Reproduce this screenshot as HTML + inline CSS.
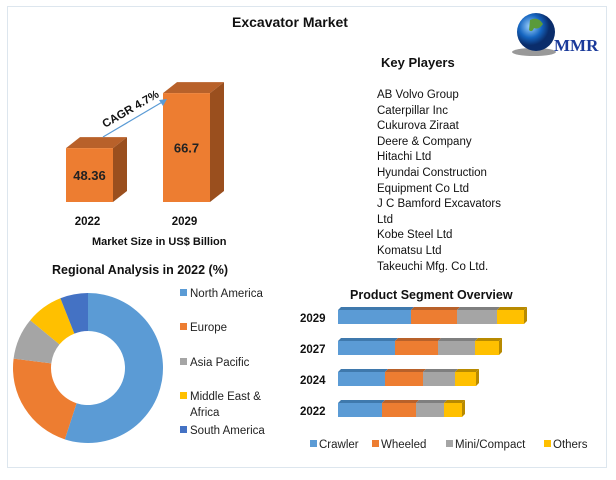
<!DOCTYPE html>
<html><head><meta charset="utf-8"><style>
body{margin:0;background:#fff;font-family:"Liberation Sans",sans-serif;}
#wrap{position:relative;width:616px;height:480px;overflow:hidden;background:#fff}
.frame{position:absolute;left:7px;top:6px;width:600px;height:462px;border:1px solid #dde6ee;box-sizing:border-box}
.t{position:absolute;font-weight:bold;color:#111;white-space:nowrap}
.kp{position:absolute;left:377px;font-size:11.5px;color:#111;line-height:15.6px}
</style></head><body>
<div id="wrap">
<div class="frame"></div>
<div class="t" style="left:232px;top:14px;font-size:14px">Excavator Market</div>
<svg style="position:absolute;left:510px;top:8px" width="95" height="60">
<defs><radialGradient id="g" cx="0.35" cy="0.35"><stop offset="0" stop-color="#9fd3ff"/><stop offset="0.6" stop-color="#1565c0"/><stop offset="1" stop-color="#0a2d6b"/></radialGradient></defs>
<ellipse cx="24" cy="44" rx="22" ry="4" fill="#999"/>
<circle cx="26" cy="24" r="19" fill="url(#g)"/>
<path d="M20 12 q8 -4 13 4 q-4 6 -9 4 q-2 5 -5 2z" fill="#5a9a3a"/>
<text x="44" y="43" font-family="Liberation Serif" font-weight="bold" font-size="17" fill="#1a3a9a">MMR</text>
</svg>
<svg id="mk" style="position:absolute;left:0;top:0" width="300" height="250"></svg>
<div class="t" style="left:92px;top:236px;font-size:11px">Market Size in US$ Billion</div>
<div class="t" style="left:381px;top:55px;font-size:13px">Key Players</div>
<div class="kp" style="top:88px">AB Volvo Group<br>Caterpillar Inc<br>Cukurova Ziraat<br>Deere &amp; Company<br>Hitachi Ltd<br>Hyundai Construction<br>Equipment Co Ltd<br>J C Bamford Excavators<br>Ltd<br>Kobe Steel Ltd<br>Komatsu Ltd<br>Takeuchi Mfg. Co Ltd.</div>
<div class="t" style="left:52px;top:263px;font-size:12.5px">Regional Analysis in 2022 (%)</div>
<svg id="donut" style="position:absolute;left:0;top:280px" width="290" height="180"></svg>
<div class="t" style="left:350px;top:288px;font-size:12.5px">Product Segment Overview</div>
<svg id="seg" style="position:absolute;left:290px;top:290px" width="326" height="180"></svg>
</div>
<script>
const NS="http://www.w3.org/2000/svg";
function mk(p,tag,a){const e=document.createElementNS(NS,tag);for(const k in a)e.setAttribute(k,a[k]);p.appendChild(e);return e;}
// Market size
const mYears=["2022","2029"];
const mValues=[48.36,66.7];
const mk1=document.getElementById('mk');
const yS=v=>202-(v-30.4)*3.0;
const xs=[66,163];
mValues.forEach((v,i)=>{
 const x=xs[i],w=47,top=yS(v),dx=14,dy=11;
 const g=mk(mk1,'g',{});
 
 
 mk(g,'polygon',{points:`${x},${top} ${x+dx},${top-dy} ${x+w+dx},${top-dy} ${x+w},${top}`,fill:'#b8612a'});
 mk(g,'polygon',{points:`${x+w},${top} ${x+w+dx},${top-dy} ${x+w+dx},${202-dy} ${x+w},202`,fill:'#9a4f1e'});
 mk(g,'rect',{x:x,y:top,width:w,height:202-top,fill:'#ed7d31'});
 const t=mk(g,'text',{x:x+w/2,y:(top+202)/2+5,'text-anchor':'middle','font-size':13,'font-weight':'bold',fill:'#222'});t.textContent=v;
 const l=mk(mk1,'text',{x:x+w/2-2,y:225,'text-anchor':'middle','font-size':11.5,'font-weight':'bold',fill:'#111'});l.textContent=mYears[i];
 
 
});
mk(mk1,'line',{x1:103,y1:137,x2:164,y2:101,stroke:'#5b9bd5','stroke-width':1.2});
mk(mk1,'polygon',{points:'167,99 159,100 163,106',fill:'#5b9bd5'});
const cg=mk(mk1,'text',{x:0,y:0,'font-size':11.5,'font-weight':'bold',fill:'#111',transform:'translate(105,128) rotate(-30)'});cg.textContent='CAGR 4.7%';


// Donut
const regions=["North America","Europe","Asia Pacific","Middle East & Africa","South America"];
const regionShares=[55,22,9,8,6];
const rColors=['#5b9bd5','#ed7d31','#a5a5a5','#ffc000','#4472c4'];
const dn=document.getElementById('donut');
const cx=88,cy=88,R=75,r=37;let a0=-Math.PI/2;const tot=regionShares.reduce((a,b)=>a+b,0);
regionShares.forEach((v,i)=>{
 const a1=a0+v/tot*2*Math.PI,lg=(a1-a0)>Math.PI?1:0;
 const P=(rr,a)=>`${cx+rr*Math.cos(a)},${cy+rr*Math.sin(a)}`;
 const p=mk(dn,'path',{d:`M${P(R,a0)} A${R},${R} 0 ${lg} 1 ${P(R,a1)} L${P(r,a1)} A${r},${r} 0 ${lg} 0 ${P(r,a0)}Z`,fill:rColors[i]});
 
 
 a0=a1;
});
const legY=[15,49,84,118,152];
regions.forEach((n,i)=>{
 const g=mk(dn,'g',{});
 
 
 mk(g,'rect',{x:180,y:legY[i]-6,width:7,height:7,fill:rColors[i]});
 if(i===3){
  const t=mk(g,'text',{x:190,y:legY[i]+2,'font-size':11.5,fill:'#222'});t.textContent='Middle East &';
  const t2=mk(g,'text',{x:190,y:legY[i]+18,'font-size':11.5,fill:'#222'});t2.textContent='Africa';
 }else{const t=mk(g,'text',{x:190,y:legY[i]+2,'font-size':11.5,fill:'#222'});t.textContent=n;}
});
// Segment
const segYears=["2029","2027","2024","2022"];
const segNames=["Crawler","Wheeled","Mini/Compact","Others"];
const crawler=[73,57,47,44];
const wheeled=[46,43,38,34];
const mini=[40,37,32,28];
const others=[27,24,21,18];
const sColors=['#5b9bd5','#ed7d31','#a5a5a5','#ffc000'];
const sDark=['#3f79ad','#b8612a','#7f7f7f','#b88a00'];
const sg=document.getElementById('seg');
const series=[crawler,wheeled,mini,others];
const xS=v=>48+v;
segYears.forEach((y,i)=>{
 const yb=20+i*31,h=14;let acc=0;
 series.forEach((s,j)=>{
  const x0=xS(acc),x1=xS(acc+s[i]);
  const g=mk(sg,'g',{});
  
  
  mk(g,'polygon',{points:`${x0},${yb} ${x0+3},${yb-3} ${x1+3},${yb-3} ${x1},${yb}`,fill:sDark[j]});
  mk(g,'rect',{x:x0,y:yb,width:x1-x0,height:h,fill:sColors[j]});
  if(j===3)mk(g,'polygon',{points:`${x1},${yb} ${x1+3},${yb-3} ${x1+3},${yb+h-3} ${x1},${yb+h}`,fill:sDark[j]});
  acc+=s[i];
 });
 const t=mk(sg,'text',{x:10,y:yb+12,'font-size':11.5,'font-weight':'bold',fill:'#111'});t.textContent=y;
 
 
});
const lx=[20,82,156,254];
segNames.forEach((n,j)=>{
 const g=mk(sg,'g',{});
 
 
 mk(g,'rect',{x:lx[j],y:150,width:7,height:7,fill:sColors[j]});
 const t=mk(g,'text',{x:lx[j]+9,y:158,'font-size':11.5,fill:'#222'});t.textContent=n;
});
</script>
</body></html>
